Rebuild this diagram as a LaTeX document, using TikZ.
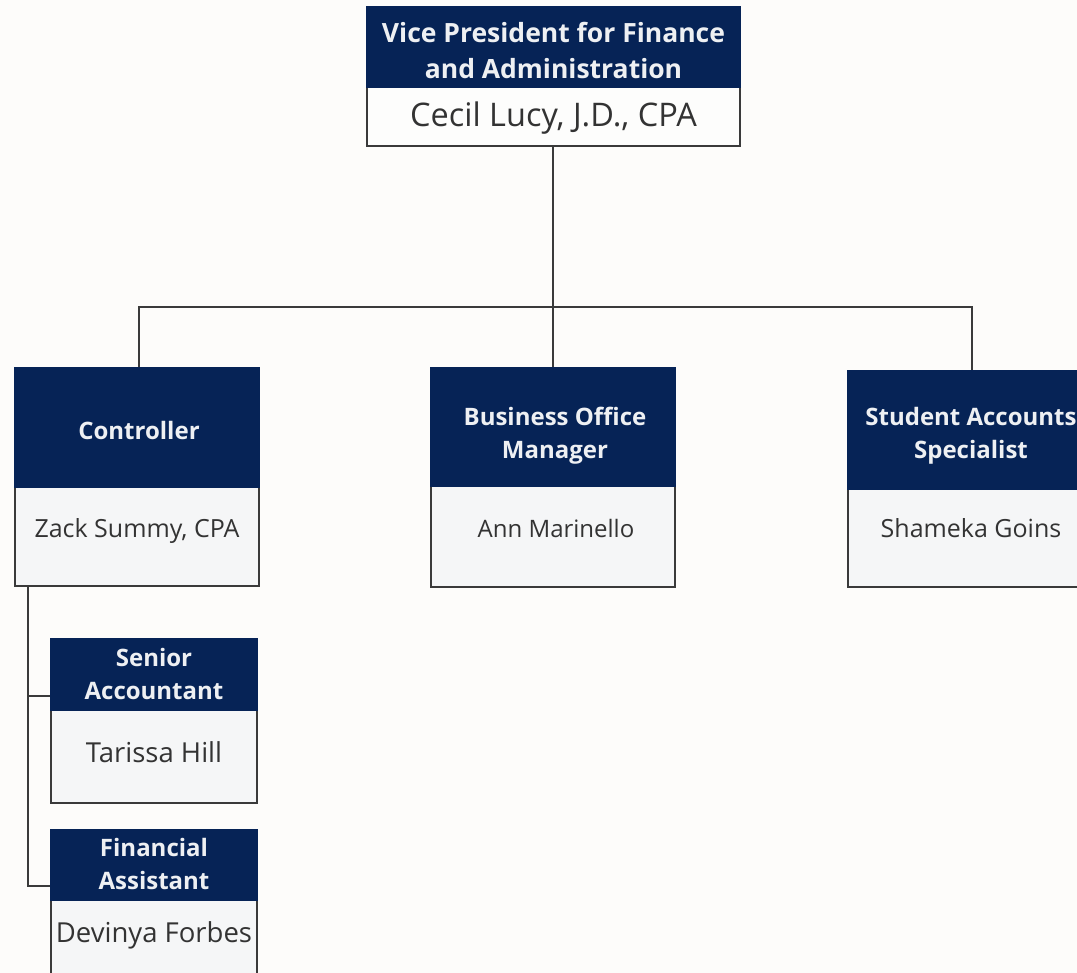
\documentclass[tikz,border=0pt]{standalone}
\usepackage{fontspec}
\setmainfont{Open Sans}
\definecolor{navy}{HTML}{062356}
\definecolor{bg}{HTML}{FDFCFA}
\definecolor{lineg}{HTML}{3A3A3A}
\definecolor{bodyg}{HTML}{F5F6F7}
\definecolor{vpbody}{HTML}{FDFDFC}
\definecolor{htext}{HTML}{EEF0F3}
\definecolor{btext}{HTML}{333333}
\begin{document}
\begin{tikzpicture}[x=1pt,y=-1pt,
  hd/.style={fill=navy,inner sep=0pt,outer sep=0pt,anchor=north west},
  bd/.style={draw=lineg,line width=2pt,fill=bodyg,inner sep=0pt,outer sep=0pt,anchor=north west},
  ht/.style={text=htext,align=center,inner sep=0pt,font=\fontsize{24}{33}\selectfont\bfseries},
  lbl/.style={text=btext,inner sep=0pt},
  conn/.style={draw=lineg,line width=2pt},
  bf/.style={font=\fontsize{25}{30}\selectfont}]
\fill[bg] (0,0) rectangle (1077,973);
\useasboundingbox (0,0) rectangle (1077,973);
\clip (0,0) rectangle (1077,973);

% VP
\node[bd,fill=vpbody,minimum width=373pt,minimum height=60pt] (vpb) at (367,86) {};
\node[hd,minimum width=375pt,minimum height=82pt] (vph) at (366,6) {};
\node[ht,font=\fontsize{26.5}{36}\selectfont\bfseries] (vpht) at (553.5,50) {Vice President for Finance\\and Administration};
\node[lbl,font=\fontsize{32.5}{36}\selectfont] (vpt) at (553.5,118) {Cecil Lucy, J.D., CPA};

% Controller
\node[bd,minimum width=244pt,minimum height=100pt] (ctlb) at (15,486) {};
\node[hd,minimum width=246pt,minimum height=121pt] (ctlh) at (14,367) {};
\node[ht] (ctlht) at (139,431) {Controller};
\node[lbl,bf] (ctlt) at (137,531) {Zack Summy, CPA};

% Business Office Manager
\node[bd,minimum width=244pt,minimum height=102pt] (bomb) at (431,485) {};
\node[hd,minimum width=246pt,minimum height=120pt] (bomh) at (430,367) {};
\node[ht] (bomht) at (555,436) {Business Office\\Manager};
\node[lbl,font=\fontsize{24}{30}\selectfont] (bomt) at (556,528) {Ann Marinello};

% Student Accounts Specialist
\node[bd,minimum width=244pt,minimum height=99pt] (sasb) at (848,488) {};
\node[hd,minimum width=246pt,minimum height=120pt] (sash) at (847,370) {};
\node[ht] (sasht) at (971,436) {Student Accounts\\Specialist};
\node[lbl,bf] (sast) at (971,528) {Shameka Goins};

% Senior Accountant
\node[bd,minimum width=206pt,minimum height=94pt] (sab) at (51,709) {};
\node[hd,minimum width=208pt,minimum height=73pt] (sah) at (50,638) {};
\node[ht] (saht) at (154,674) {Senior\\Accountant};
\node[lbl,font=\fontsize{27.5}{32}\selectfont] (sat) at (154,752) {Tarissa Hill};

% Financial Assistant
\node[bd,minimum width=206pt,minimum height=120pt] (fab) at (51,899) {};
\node[hd,minimum width=208pt,minimum height=72pt] (fah) at (50,829) {};
\node[ht] (faht) at (154,863.5) {Financial\\Assistant};
\node[lbl,font=\fontsize{27.5}{32}\selectfont] (fat) at (154,935) {Devinya Forbes};

% connectors
\coordinate (j) at (553,307);
\draw[conn] (j |- vpb.south) -- (j);
\draw[conn] ([xshift=2pt]ctlh.north) |- (j) -| ([xshift=2pt]sash.north);
\draw[conn] (j) -- (j |- bomh.north);
\coordinate (cs) at (28,587);
\draw[conn] (cs) |- ([yshift=-21pt]fah.west);
\draw[conn] (cs |- sah.west) ++(0,21) -- ([yshift=-21pt]sah.west);
\end{tikzpicture}
\end{document}
